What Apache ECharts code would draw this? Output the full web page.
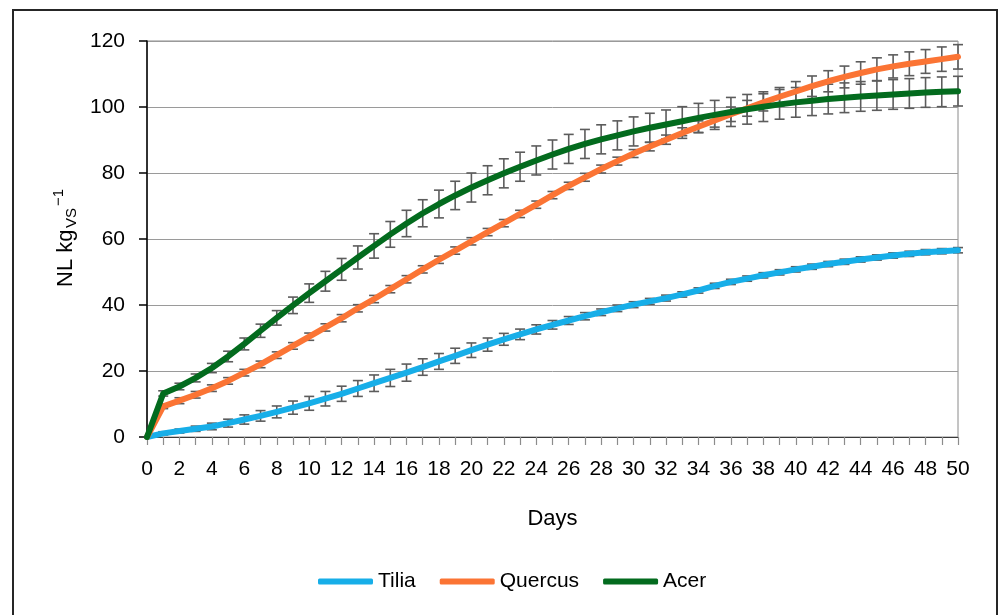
<!DOCTYPE html>
<html>
<head>
<meta charset="utf-8">
<script src="https://cdn.jsdelivr.net/npm/echarts@6/dist/echarts.min.js"></script>
<style>
  html, body { margin: 0; padding: 0; background: #fff; }
  #chart { width: 1000px; height: 615px; }
</style>
</head>
<body>
<div id="chart"></div>
<script>
// Cumulative biogas yield (NL per kg VS) over 50 days of digestion
const days = [0, 1, 2, 3, 4, 5, 6, 7, 8, 9, 10, 11, 12, 13, 14, 15, 16, 17, 18, 19, 20,
  21, 22, 23, 24, 25, 26, 27, 28, 29, 30, 31, 32, 33, 34, 35, 36, 37, 38, 39, 40,
  41, 42, 43, 44, 45, 46, 47, 48, 49, 50];

const tilia = [0, 1.1, 1.8, 2.5, 3.2, 4.2, 5.3, 6.4, 7.6, 8.9, 10.2, 11.6, 13.1, 14.7, 16.3, 17.9,
  19.5, 21.2, 22.9, 24.6, 26.3, 28.0, 29.6, 31.1, 32.6, 34.0, 35.3, 36.6, 37.8, 39.0, 40.1,
  41.1, 42.1, 43.2, 44.4, 45.8, 47.0, 48.0, 49.0, 49.9, 50.8, 51.6, 52.4, 53.1, 53.8, 54.4,
  55.0, 55.5, 56.0, 56.3, 56.6];
const tiliaSd = [0, 0.5, 0.6, 0.8, 1.0, 1.2, 1.4, 1.6, 1.8, 2.0, 2.1, 2.2, 2.3, 2.4, 2.5, 2.6,
  2.6, 2.5, 2.4, 2.3, 2.2, 2.0, 1.8, 1.6, 1.4, 1.3, 1.2, 1.1, 1.0, 1.0, 0.9,
  0.9, 0.9, 0.8, 0.8, 0.8, 0.8, 0.8, 0.8, 0.8, 0.8, 0.8, 0.8, 0.8, 0.8, 0.8,
  0.8, 0.8, 0.8, 0.8, 0.8];

const quercus = [0, 9.3, 11.0, 12.8, 14.8, 17.0, 19.5, 22.0, 24.8, 27.6, 30.4, 33.2, 36.0, 39.0,
  41.8, 44.8, 47.8, 50.8, 53.7, 56.5, 59.3, 62.1, 64.8, 67.6, 70.4, 73.3, 76.1, 78.7, 81.2,
  83.6, 85.9, 88.0, 90.1, 92.1, 94.0, 95.9, 97.8, 99.6, 101.4, 103.1, 104.7, 106.3, 107.8,
  109.1, 110.3, 111.4, 112.3, 113.1, 113.8, 114.5, 115.2];
const quercusSd = [0, 0.7, 0.9, 1.0, 1.0, 1.0, 1.0, 1.0, 1.0, 1.0, 1.1, 1.1, 1.1, 1.1, 1.1, 1.1,
  1.1, 1.1, 1.1, 1.1, 1.1, 1.1, 1.1, 1.1, 1.1, 1.1, 1.1, 1.2, 1.2, 1.2, 1.2,
  1.3, 1.4, 1.6, 1.8, 2.0, 2.2, 2.4, 2.6, 2.8, 3.0, 3.1, 3.2, 3.3, 3.4, 3.5,
  3.5, 3.6, 3.6, 3.7, 3.7];

const acer = [0, 13.2, 15.3, 17.9, 20.9, 24.4, 28.2, 32.2, 36.1, 39.9, 43.6, 47.2, 50.8, 54.4,
  57.9, 61.4, 64.7, 67.8, 70.6, 73.2, 75.6, 77.8, 79.9, 81.9, 83.8, 85.6, 87.3, 88.8, 90.2,
  91.4, 92.6, 93.7, 94.7, 95.7, 96.7, 97.6, 98.5, 99.3, 100.1, 100.8, 101.4, 101.9, 102.4,
  102.8, 103.2, 103.5, 103.8, 104.1, 104.4, 104.6, 104.8];
const acerSd = [0, 0.8, 1.0, 1.2, 1.4, 1.6, 1.8, 2.0, 2.2, 2.5, 2.8, 3.0, 3.3, 3.5, 3.7, 3.9,
  4.0, 4.1, 4.2, 4.3, 4.4, 4.4, 4.4, 4.4, 4.4, 4.4, 4.4, 4.4, 4.4, 4.4, 4.4,
  4.4, 4.4, 4.4, 4.4, 4.4, 4.4, 4.5, 4.5, 4.5, 4.5, 4.5, 4.5, 4.5, 4.5, 4.5,
  4.5, 4.5, 4.5, 4.5, 4.5];

const seriesNames = ['Tilia', 'Quercus', 'Acer'];
const colors = ['#17AEE8', '#FB7434', '#036B1E'];
const yTicks = { min: 0, max: 120, step: 20 };
const xTicks = { min: 0, max: 50, step: 2 };

const FONT = "'Liberation Sans', Arial, sans-serif";

function linePoints(vals) {
  return vals.map((v, i) => [days[i], v]);
}

function barPoints(vals, sd) {
  return vals.map((v, i) => [days[i], v - sd[i], v + sd[i]]);
}

// Vertical error bar with caps, one per day
function renderErrorBar(params, api) {
  if (api.value(2) - api.value(1) <= 0) return null;
  const x = api.value(0);
  const lo = api.coord([x, api.value(1)]);
  const hi = api.coord([x, api.value(2)]);
  const hw = 5;
  const st = { stroke: '#5c5c5c', lineWidth: 1.6 };
  return {
    type: 'group',
    children: [
      { type: 'line', shape: { x1: lo[0], y1: lo[1], x2: hi[0], y2: hi[1] }, style: st },
      { type: 'line', shape: { x1: lo[0] - hw, y1: lo[1], x2: lo[0] + hw, y2: lo[1] }, style: st },
      { type: 'line', shape: { x1: hi[0] - hw, y1: hi[1], x2: hi[0] + hw, y2: hi[1] }, style: st }
    ]
  };
}

const valueSets = [tilia, quercus, acer];
const sdSets = [tiliaSd, quercusSd, acerSd];

const series = [];
valueSets.forEach((vals, k) => {
  series.push({
    name: seriesNames[k] + ' SD',
    type: 'custom',
    renderItem: renderErrorBar,
    encode: { x: 0, y: [1, 2] },
    data: barPoints(vals, sdSets[k]),
    z: 2,
    silent: true
  });
});
valueSets.forEach((vals, k) => {
  series.push({
    name: seriesNames[k],
    type: 'line',
    data: linePoints(vals),
    showSymbol: false,
    symbol: 'none',
    smooth: false,
    lineStyle: { color: colors[k], width: 6, cap: 'round', join: 'round' },
    itemStyle: { color: colors[k] },
    z: 3 + k
  });
});

const chart = echarts.init(document.getElementById('chart'), null, { renderer: 'canvas' });
chart.setOption({
  animation: false,
  backgroundColor: '#ffffff',
  textStyle: { fontFamily: FONT },
  grid: {
    left: 147, right: 42, top: 41, bottom: 178,
    show: true, borderColor: '#8a8a8a', borderWidth: 1, backgroundColor: 'transparent'
  },
  legend: {
    data: seriesNames,
    top: 566,
    left: 313,
    icon: 'roundRect',
    itemWidth: 55,
    itemHeight: 6,
    itemGap: 24,
    textStyle: { fontSize: 21, color: '#000', fontFamily: FONT }
  },
  xAxis: {
    type: 'value',
    min: xTicks.min,
    max: xTicks.max,
    interval: xTicks.step,
    name: 'Days',
    nameLocation: 'middle',
    nameGap: 71,
    nameTextStyle: { fontSize: 22, color: '#000', fontFamily: FONT },
    axisLine: { show: true, lineStyle: { color: '#3a3a3a', width: 1.2 } },
    axisTick: { show: true, length: 8, lineStyle: { color: '#8c8c8c', width: 1.2 } },
    minorTick: { show: true, splitNumber: 2, length: 8, lineStyle: { color: '#8c8c8c', width: 1.2 } },
    axisLabel: { fontSize: 21, color: '#000', margin: 22, fontFamily: FONT },
    splitLine: { show: false }
  },
  yAxis: {
    type: 'value',
    min: yTicks.min,
    max: yTicks.max,
    interval: yTicks.step,
    axisLine: { show: true, lineStyle: { color: '#000', width: 1.5 } },
    axisTick: { show: true, length: 8, lineStyle: { color: '#000', width: 1.5 } },
    axisLabel: { fontSize: 21, color: '#000', margin: 22, fontFamily: FONT },
    splitLine: { show: true, lineStyle: { color: '#9a9a9a', width: 1 } }
  },
  graphic: [
    {
      type: 'rect',
      shape: { x: 13, y: 10, width: 984, height: 640 },
      style: { fill: 'transparent', stroke: '#262626', lineWidth: 2 },
      silent: true
    },
    {
      type: 'group',
      x: 66,
      y: 232,
      rotation: Math.PI / 2,
      children: [
        { type: 'text', x: -55, y: 0, style: { text: 'NL kg', fontSize: 22, fontFamily: FONT, fill: '#000', align: 'left', verticalAlign: 'middle' } },
        { type: 'text', x: 4, y: 6, style: { text: 'VS', fontSize: 15, fontFamily: FONT, fill: '#000', align: 'left', verticalAlign: 'middle' } },
        { type: 'text', x: 26, y: -7, style: { text: '\u22121', fontSize: 15, fontFamily: FONT, fill: '#000', align: 'left', verticalAlign: 'middle' } }
      ]
    }
  ],
  series: series
});
</script>
</body>
</html>
